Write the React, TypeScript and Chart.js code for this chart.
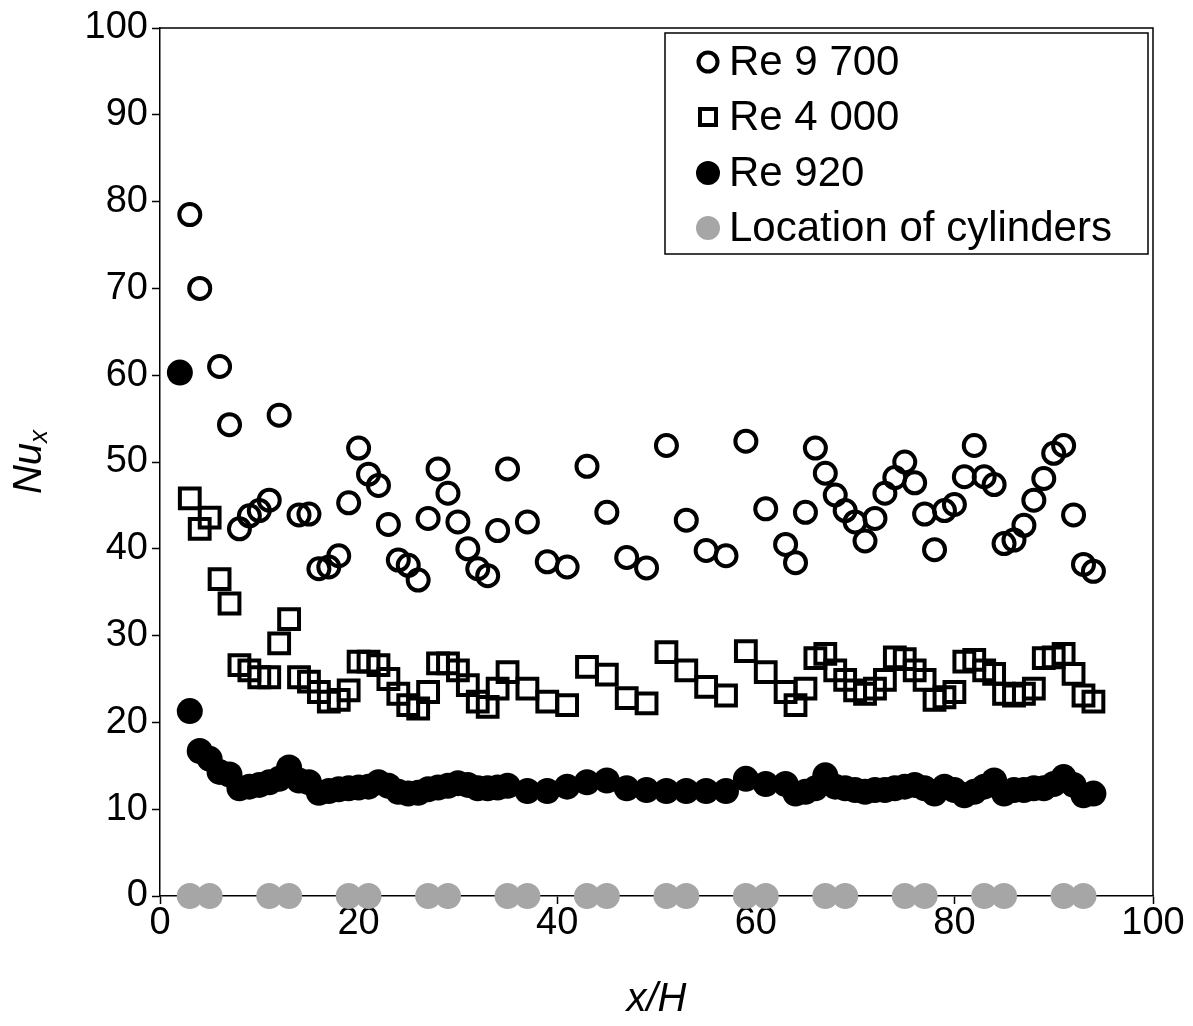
import React, { useEffect, useRef } from "react";
import { Chart, registerables } from "chart.js";
Chart.register(...registerables);

const FONT = "'Liberation Sans', Arial, sans-serif";

// x/H positions and Nu_x values
const re9700X = [3, 4, 6, 7, 8, 9, 10, 11, 12, 14, 15, 16, 17, 18, 19, 20, 21, 22, 23, 24, 25, 26, 27, 28, 29, 30, 31, 32, 33, 34, 35, 37, 39, 41, 43, 45, 47, 49, 51, 53, 55, 57, 59, 61, 63, 64, 65, 66, 67, 68, 69, 70, 71, 72, 73, 74, 75, 76, 77, 78, 79, 80, 81, 82, 83, 84, 85, 86, 87, 88, 89, 90, 91, 92, 93, 94];
const re9700Y = [78.5, 70, 61, 54.3, 42.3, 43.8, 44.4, 45.6, 55.4, 43.9, 44.0, 37.7, 37.9, 39.2, 45.3, 51.6, 48.6, 47.3, 42.8, 38.7, 38.1, 36.4, 43.5, 49.2, 46.4, 43.1, 40.0, 37.7, 36.9, 42.1, 49.2, 43.1, 38.5, 37.9, 49.5, 44.2, 39.0, 37.8, 51.9, 43.3, 39.8, 39.2, 52.4, 44.6, 40.5, 38.4, 44.2, 51.6, 48.7, 46.2, 44.4, 43.1, 40.9, 43.5, 46.4, 48.2, 50.0, 47.6, 44.0, 39.9, 44.4, 45.1, 48.3, 51.9, 48.3, 47.4, 40.6, 41.0, 42.7, 45.6, 48.1, 51.0, 51.9, 43.9, 38.2, 37.4];

const re4000X = [3, 4, 5, 6, 7, 8, 9, 10, 11, 12, 13, 14, 15, 16, 17, 18, 19, 20, 21, 22, 23, 24, 25, 26, 27, 28, 29, 30, 31, 32, 33, 34, 35, 37, 39, 41, 43, 45, 47, 49, 51, 53, 55, 57, 59, 61, 63, 64, 65, 66, 67, 68, 69, 70, 71, 72, 73, 74, 75, 76, 77, 78, 79, 80, 81, 82, 83, 84, 85, 86, 87, 88, 89, 90, 91, 92, 93, 94];
const re4000Y = [45.8, 42.3, 43.6, 36.5, 33.7, 26.6, 26.0, 25.2, 25.2, 29.1, 31.9, 25.2, 24.7, 23.5, 22.4, 22.6, 23.7, 27.0, 27.0, 26.6, 25.0, 23.3, 22.0, 21.6, 23.5, 26.8, 26.8, 26.0, 24.3, 22.4, 21.8, 23.9, 25.8, 23.9, 22.4, 22.0, 26.4, 25.5, 22.8, 22.2, 28.1, 26.0, 24.1, 23.1, 28.2, 25.8, 23.5, 22.0, 23.9, 27.4, 27.9, 26.0, 24.9, 23.7, 23.3, 23.9, 24.9, 27.5, 27.3, 26.0, 24.9, 22.6, 22.9, 23.5, 27.0, 27.2, 26.0, 25.6, 23.3, 23.1, 23.3, 23.9, 27.4, 27.5, 27.9, 25.6, 23.1, 22.4];

const re920X = [2, 3, 4, 5, 6, 7, 8, 9, 10, 11, 12, 13, 14, 15, 16, 17, 18, 19, 20, 21, 22, 23, 24, 25, 26, 27, 28, 29, 30, 31, 32, 33, 34, 35, 37, 39, 41, 43, 45, 47, 49, 51, 53, 55, 57, 59, 61, 63, 64, 65, 66, 67, 68, 69, 70, 71, 72, 73, 74, 75, 76, 77, 78, 79, 80, 81, 82, 83, 84, 85, 86, 87, 88, 89, 90, 91, 92, 93, 94];
const re920Y = [60.3, 21.3, 16.7, 15.8, 14.3, 14.0, 12.4, 12.6, 12.8, 13.1, 13.5, 14.8, 13.3, 13.1, 11.9, 12.1, 12.3, 12.4, 12.5, 12.6, 13.1, 12.7, 12.0, 11.8, 11.9, 12.3, 12.5, 12.7, 13.0, 12.8, 12.4, 12.4, 12.5, 12.7, 12.1, 12.1, 12.6, 13.1, 13.3, 12.4, 12.2, 12.1, 12.1, 12.1, 12.1, 13.5, 12.9, 12.9, 11.8, 12.0, 12.4, 13.9, 12.6, 12.4, 12.2, 12.0, 12.2, 12.2, 12.4, 12.6, 12.8, 12.4, 11.8, 12.6, 12.2, 11.6, 12.0, 12.6, 13.3, 11.8, 12.2, 12.2, 12.4, 12.4, 12.9, 13.7, 12.8, 11.6, 11.8];

const cylinderX = [3, 5, 11, 13, 19, 21, 27, 29, 35, 37, 43, 45, 51, 53, 59, 61, 67, 69, 75, 77, 83, 85, 91, 93];
const cylinderY = [0, 0, 0, 0, 0, 0, 0, 0, 0, 0, 0, 0, 0, 0, 0, 0, 0, 0, 0, 0, 0, 0, 0, 0];

const seriesLabels = ["Re 9 700", "Re 4 000", "Re 920", "Location of cylinders"];
const xTicks = [0, 20, 40, 60, 80, 100];
const yTicks = [0, 10, 20, 30, 40, 50, 60, 70, 80, 90, 100];

const GRAY = "#A6A6A6";

function toPoints(xs: number[], ys: number[]) {
  return xs.map((x, i) => ({ x, y: ys[i] }));
}

export default function App() {
  const ref = useRef<HTMLCanvasElement>(null);

  useEffect(() => {
    if (!ref.current) return;

    const overlay = {
      id: "overlay",
      afterDraw(chart: any) {
        const { ctx, chartArea: a } = chart;
        ctx.save();
        // top and right frame
        ctx.strokeStyle = "#000";
        ctx.lineWidth = 1.5;
        ctx.beginPath();
        ctx.moveTo(a.left, a.top);
        ctx.lineTo(a.right, a.top);
        ctx.lineTo(a.right, a.bottom);
        ctx.stroke();

        // legend box
        const bx = 665, by = 33, bw = 1148 - 665, bh = 254 - 33;
        ctx.fillStyle = "#fff";
        ctx.fillRect(bx, by, bw, bh);
        ctx.lineWidth = 1.5;
        ctx.strokeRect(bx, by, bw, bh);

        const rowY = [62, 117, 173, 228];
        const mx = 708;
        // circle
        ctx.lineWidth = 4;
        ctx.strokeStyle = "#000";
        ctx.beginPath();
        ctx.arc(mx, rowY[0], 9.5, 0, Math.PI * 2);
        ctx.stroke();
        // square
        ctx.strokeRect(mx - 8, rowY[1] - 8, 16, 16);
        // filled
        ctx.fillStyle = "#000";
        ctx.beginPath();
        ctx.arc(mx, rowY[2], 12, 0, Math.PI * 2);
        ctx.fill();
        // gray
        ctx.fillStyle = GRAY;
        ctx.beginPath();
        ctx.arc(mx, rowY[3], 12, 0, Math.PI * 2);
        ctx.fill();

        ctx.fillStyle = "#000";
        ctx.font = `42px ${FONT}`;
        ctx.textBaseline = "middle";
        ctx.textAlign = "left";
        seriesLabels.forEach((t, i) => ctx.fillText(t, 729, rowY[i] + 1));

        // axis titles
        ctx.font = `italic 40px ${FONT}`;
        ctx.textAlign = "center";
        ctx.textBaseline = "middle";
        ctx.fillText("x/H", (a.left + a.right) / 2, 1000);

        ctx.translate(30, 462);
        ctx.rotate(-Math.PI / 2);
        ctx.textAlign = "left";
        const nu = "Nu";
        const wNu = ctx.measureText(nu).width;
        ctx.font = `italic 26px ${FONT}`;
        const wx = ctx.measureText("x").width;
        const start = -(wNu + wx) / 2;
        ctx.font = `italic 40px ${FONT}`;
        ctx.fillText(nu, start, 0);
        ctx.font = `italic 26px ${FONT}`;
        ctx.fillText("x", start + wNu, 10);
        ctx.restore();
      },
    };

    const chart = new Chart(ref.current, {
      type: "scatter",
      data: {
        datasets: [
          {
            label: seriesLabels[0],
            data: toPoints(re9700X, re9700Y),
            pointStyle: "circle",
            pointRadius: 10.5,
            borderWidth: 4,
            borderColor: "#000",
            backgroundColor: "rgba(0,0,0,0)",
            clip: false as any,
          },
          {
            label: seriesLabels[1],
            data: toPoints(re4000X, re4000Y),
            pointStyle: "rect",
            pointRadius: 14,
            borderWidth: 4,
            borderColor: "#000",
            backgroundColor: "rgba(0,0,0,0)",
            clip: false as any,
          },
          {
            label: seriesLabels[2],
            data: toPoints(re920X, re920Y),
            pointStyle: "circle",
            pointRadius: 13,
            borderWidth: 0,
            borderColor: "#000",
            backgroundColor: "#000",
            clip: false as any,
          },
          {
            label: seriesLabels[3],
            data: toPoints(cylinderX, cylinderY),
            pointStyle: "circle",
            pointRadius: 13,
            borderWidth: 0,
            borderColor: GRAY,
            backgroundColor: GRAY,
            clip: false as any,
          },
        ],
      },
      options: {
        responsive: false,
        devicePixelRatio: 1,
        animation: false,
        layout: { padding: { left: 0, top: 28, right: 40, bottom: 0 } },
        plugins: { legend: { display: false }, tooltip: { enabled: false } },
        scales: {
          x: {
            type: "linear",
            min: 0,
            max: 100,
            afterBuildTicks: (s: any) => {
              s.ticks = xTicks.map((v) => ({ value: v }));
            },
            afterFit: (s: any) => {
              s.height = 130;
            },
            ticks: { color: "#000", font: { family: FONT, size: 38 }, padding: -3, maxRotation: 0 },
            grid: { display: true, drawOnChartArea: false, drawTicks: true, tickLength: 8, tickColor: "#000", tickWidth: 1.5, color: "#000" },
            border: { display: true, color: "#000", width: 1.5 },
          },
          y: {
            type: "linear",
            min: 0,
            max: 100,
            afterBuildTicks: (s: any) => {
              s.ticks = yTicks.map((v) => ({ value: v }));
            },
            afterFit: (s: any) => {
              s.width = 160;
            },
            ticks: { color: "#000", font: { family: FONT, size: 38 }, padding: 4 },
            grid: { display: true, drawOnChartArea: false, drawTicks: true, tickLength: 8, tickColor: "#000", tickWidth: 1.5, color: "#000" },
            border: { display: true, color: "#000", width: 1.5 },
          },
        },
      },
      plugins: [overlay],
    } as any);

    return () => chart.destroy();
  }, []);

  return (
    <div style={{ position: "absolute", left: 0, top: 0, width: 1193, height: 1026, background: "#fff" }}>
      <canvas ref={ref} width={1193} height={1026} style={{ display: "block" }} />
    </div>
  );
}
